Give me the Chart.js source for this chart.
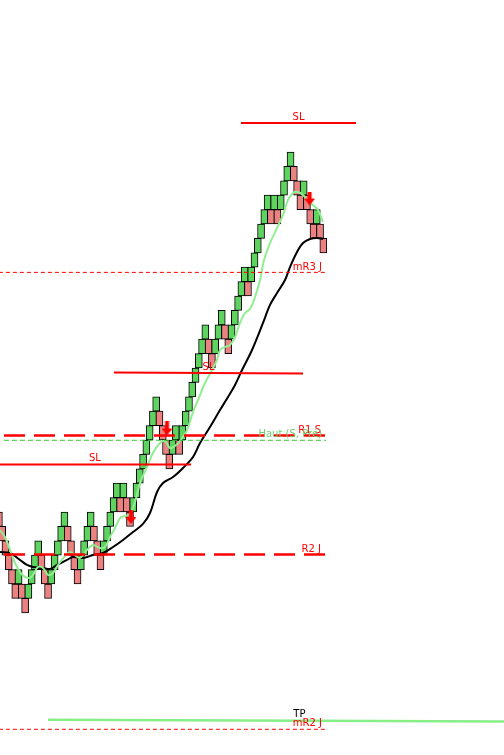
<!DOCTYPE html>
<html>
<head>
<meta charset="utf-8">
<script src="https://cdn.jsdelivr.net/npm/chart.js@4/dist/chart.umd.min.js"></script>
<style>
html,body{margin:0;padding:0;background:#fff;}
#wrap{position:relative;width:504px;height:755px;}
</style>
</head>
<body>
<div id="wrap"><canvas id="c"></canvas></div>
<script>
// ---- DATA ----
// Renko bricks: bottom level of each brick (brick units), one brick per column
const brickLevels = [
  6,5,4,3,2,1,2,1,0,1,
  2,3,4,3,2,1,2,3,4,5,
  6,5,4,3,2,3,4,5,6,5,
  4,3,4,5,6,7,8,7,8,7,
  6,7,8,9,10,11,12,13,14,13,
  12,11,10,11,12,11,12,13,14,15,
  16,17,18,19,18,17,18,19,20,19,
  18,19,20,21,22,23,22,23,24,25,
  26,27,28,27,28,27,28,29,30,31,
  30,29,28,29,28,27,26,27,26,25
];
const firstBrickUp = false;

// slow moving average (black) : column position, level
const slowMaX = [0.34,3.39,6.44,8.57,10.4,13.46,15.6,17.73,20.78,22.61,25.66,28.71,31.77,34.82,37.87,40.92,43.97,46.11,48.25,50.08,53.13,56.18,59.23,61.37,64.42,67.47,69.91,72.05,74.19,77.24,80.59,82.73,84.86,87.31,88.83,90.97,92.8,94.93,97.07,98.9];
const slowMaY = [4.22,4.15,3.67,3.32,3.18,3.11,3.04,3.32,3.67,3.88,3.81,4.01,4.15,4.57,5.06,5.61,6.17,6.93,8.39,9.01,9.43,10.06,10.82,11.79,12.90,14.08,14.99,15.82,16.86,18.25,20.13,21.38,22.21,23.11,24.01,25.06,25.68,25.96,26.03,25.96];

// fast moving average (light green)
const fastMaX = [0.34,1.86,3.39,4.91,6.44,7.96,9.49,10.4,11.93,13.46,14.98,16.51,18.03,20.17,21.7,23.22,24.75,26.88,28.71,30.85,32.38,33.9,35.43,36.95,38.48,40.0,41.53,43.06,45.19,47.02,49.16,50.69,52.21,53.74,55.27,57.4,59.23,60.76,62.89,65.03,66.56,67.47,69.0,70.52,72.05,73.57,75.1,76.62,78.15,79.68,80.9,82.73,84.86,86.7,88.22,89.75,91.27,92.8,94.32,95.85,97.38,98.9];
const fastMaY = [5.75,5.26,4.36,3.46,2.83,2.49,2.42,2.63,3.18,3.11,2.63,2.76,3.32,3.94,4.22,4.01,3.81,4.36,4.71,4.50,4.57,5.26,5.89,6.58,6.72,6.86,7.69,9.01,10.13,11.10,11.79,11.93,11.44,11.58,11.93,12.69,13.94,14.78,15.96,16.86,17.56,18.25,18.46,18.60,19.15,20.13,20.82,21.10,21.93,23.11,24.5,25.68,26.72,27.63,28.67,29.15,29.22,29.01,28.59,28.31,27.97,27.13];

// horizontal levels
const levelNames = ['SL','SL','SL','R1 S','Haut (S, Pré)','R2 J','mR3 J','mR2 J','TP'];
const levelFrom  = [73.88, 35.12, 0,     1.556, 1.556, 1.556, 0,     0,     15.0];
const levelTo    = [108.97,92.8,  58.62, 99.51, 99.8,  99.51, 99.8,  99.8,  154.13];
const levelStartValue = [34.01, 16.69, 10.30, 12.31, 11.98, 4.05, 23.64, -8.09, -7.42];
const levelEndValue   = [34.01, 16.62, 10.30, 12.31, 11.98, 4.05, 23.64, -8.09, -7.55];

// signal arrows (column, level)
const arrowX = [40.3, 51.3, 94.8];
const arrowY = [6.65, 12.8, 28.77];

// ---- STYLES ----
const GREEN = '#5fd35f', PINK = '#eb8282';
const levelStyles = [
  {color:'#ff0000', width:2,   dash:[],     label:'center', text:'#ff0000', dy:3},
  {color:'#ff0000', width:2,   dash:[],     label:'center', text:'#ff0000', dy:3},
  {color:'#ff0000', width:2,   dash:[],     label:'center', text:'#ff0000', dy:3},
  {color:'#ff0000', width:2.5, dash:[21,9], label:'right',  text:'#ff0000', dy:2.5},
  {color:'#33cc33', width:1,   dash:[5,3],  label:'right',  text:'#6fcf6f', dy:3},
  {color:'#ff0000', width:2.5, dash:[21,9], label:'right',  text:'#ff0000', dy:2.5},
  {color:'#ff0000', width:1,   dash:[4,3],  label:'right',  text:'#ff0000', dy:2.5},
  {color:'#ff0000', width:1,   dash:[4,3],  label:'right',  text:'#ff0000', dy:3},
  {color:'#88ee88', width:2.5, dash:[],     label:'at', at:91.7, text:'#000000', dy:4}
];

function makeArrow(){
  const c = document.createElement('canvas');
  c.width = 11; c.height = 14;
  const g = c.getContext('2d');
  g.fillStyle = '#ff0000';
  g.beginPath();
  g.moveTo(3.5,0); g.lineTo(7.5,0); g.lineTo(7.5,7); g.lineTo(11,7);
  g.lineTo(5.5,14); g.lineTo(0,7); g.lineTo(3.5,7); g.closePath();
  g.fill();
  return c;
}

const bricks = brickLevels.map((lv,i)=>({x:i, y:[lv, lv+1]}));
const upFlags = brickLevels.map((lv,i)=> i===0 ? firstBrickUp : lv > brickLevels[i-1]);

const datasets = [];
datasets.push({
  type:'bar', data:bricks,
  backgroundColor: upFlags.map(u=>u?GREEN:PINK),
  borderColor:'#000', borderWidth:1, borderSkipped:false,
  barThickness:7, grouped:false, order:10
});
datasets.push({
  type:'line', data: slowMaX.map((x,i)=>({x, y:slowMaY[i]})),
  borderColor:'#000', borderWidth:2, pointRadius:0, tension:0.35, fill:false, order:3
});
datasets.push({
  type:'line', data: fastMaX.map((x,i)=>({x, y:fastMaY[i]})),
  borderColor:'#90ee90', borderWidth:2, pointRadius:0, tension:0.35, fill:false, order:2
});
levelNames.forEach((n,k)=>{
  const st = levelStyles[k];
  datasets.push({
    type:'line', levelIndex:k,
    data:[{x:levelFrom[k], y:levelStartValue[k]},{x:levelTo[k], y:levelEndValue[k]}],
    borderColor:st.color, borderWidth:st.width, borderDash:st.dash,
    pointRadius:0, tension:0, fill:false, order:1
  });
});
datasets.push({
  type:'scatter', data: arrowX.map((x,i)=>({x, y:arrowY[i]})),
  pointStyle: makeArrow(), pointRadius:7, order:0
});

const levelLabels = {
  id:'levelLabels',
  afterDatasetsDraw(chart){
    const {ctx, scales:{x, y}} = chart;
    ctx.save();
    ctx.font = '10px "DejaVu Sans"';
    ctx.textBaseline = 'alphabetic';
    levelNames.forEach((name,k)=>{
      const st = levelStyles[k];
      const x0 = x.getPixelForValue(levelFrom[k]);
      const x1 = x.getPixelForValue(levelTo[k]);
      let px, align;
      if (st.label === 'center'){ px = (x0+x1)/2; align='center'; }
      else if (st.label === 'right'){ px = x1 - 4; align='right'; }
      else { px = x.getPixelForValue(st.at); align='center'; }
      const yv = (levelStartValue[k]+levelEndValue[k])/2;
      const py = y.getPixelForValue(yv) - st.dy;
      ctx.textAlign = align;
      ctx.fillStyle = st.text;
      ctx.fillText(name, px, py);
    });
    ctx.restore();
  }
};

new Chart(document.getElementById('c'), {
  data:{datasets},
  options:{
    responsive:true, maintainAspectRatio:false, animation:false, events:[],
    layout:{padding:0, autoPadding:false},
    plugins:{legend:{display:false}, tooltip:{enabled:false}, title:{display:false}},
    scales:{
      x:{type:'linear', display:false, min:0.3357, max:154.13, offset:false, grid:{display:false}},
      y:{type:'linear', display:false, min:-9.875, max:42.556, grid:{display:false}}
    }
  },
  plugins:[levelLabels]
});
</script>
</body>
</html>
